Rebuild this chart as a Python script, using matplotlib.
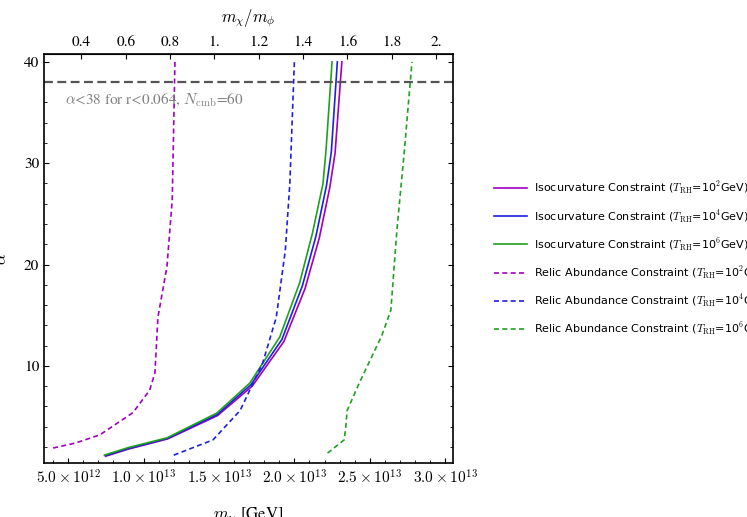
import matplotlib
matplotlib.use("Agg")
import matplotlib.pyplot as plt

plt.rcParams['mathtext.fontset'] = 'cm'
plt.rcParams['font.family'] = 'STIXGeneral'

m_phi = 1.47e13

iso1_m = [7.5e12, 9.0e12, 1.16e13, 1.49e13, 1.72e13, 1.93e13, 2.07e13, 2.165e13, 2.235e13, 2.27e13, 2.315e13]
iso1_a = [1.1, 1.8, 2.8, 5.1, 8.0, 12.4, 17.6, 22.6, 27.6, 31.0, 40.0]
iso2_m = [7.45e12, 9.0e12, 1.158e13, 1.488e13, 1.712e13, 1.917e13, 2.053e13, 2.143e13, 2.213e13, 2.245e13, 2.285e13]
iso2_a = [1.15, 1.85, 2.85, 5.2, 8.15, 12.6, 17.9, 22.8, 27.8, 31.1, 40.0]
iso3_m = [7.4e12, 9.0e12, 1.155e13, 1.486e13, 1.704e13, 1.903e13, 2.035e13, 2.12e13, 2.19e13, 2.21e13, 2.25e13]
iso3_a = [1.2, 1.95, 2.9, 5.35, 8.3, 12.85, 18.2, 23.1, 28.0, 31.3, 40.0]

rel1_m = [4.0e12, 5.5e12, 7.1e12, 9.3e12, 1.04e13, 1.075e13, 1.085e13, 1.095e13, 1.155e13, 1.19e13, 1.208e13]
rel1_a = [1.9, 2.4, 3.2, 5.4, 7.6, 9.3, 12.0, 14.8, 19.8, 26.4, 40.0]
rel2_m = [1.2e13, 1.46e13, 1.64e13, 1.79e13, 1.88e13, 1.94e13, 1.97e13, 2.0e13]
rel2_a = [1.2, 2.7, 5.6, 10.3, 14.8, 21.4, 28.0, 40.0]
rel3_m = [2.22e13, 2.33e13, 2.34e13, 2.35e13, 2.43e13, 2.58e13, 2.64e13, 2.68e13, 2.73e13, 2.78e13]
rel3_a = [1.4, 2.7, 3.8, 5.6, 8.3, 13.0, 15.5, 23.4, 31.3, 40.0]

xticks = [5e12, 1e13, 1.5e13, 2e13, 2.5e13, 3e13]
xticklabels = [r'$5.0\times10^{12}$', r'$1.0\times10^{13}$', r'$1.5\times10^{13}$',
               r'$2.0\times10^{13}$', r'$2.5\times10^{13}$', r'$3.0\times10^{13}$']
top_ticks = [0.4, 0.6, 0.8, 1.0, 1.2, 1.4, 1.6, 1.8, 2.0]
top_labels = ['0.4', '0.6', '0.8', '1.', '1.2', '1.4', '1.6', '1.8', '2.']

fig = plt.figure(figsize=(7.47, 5.17), dpi=100)
ax = fig.add_axes([0.059, 0.104, 0.547, 0.792])

ax.plot(iso1_m, iso1_a, color='#a000c0', lw=1.2, label=r'Isocurvature Constraint ($T_{\rm RH}$=10$^2$GeV)')
ax.plot(iso2_m, iso2_a, color='#1f1fe0', lw=1.2, label=r'Isocurvature Constraint ($T_{\rm RH}$=10$^4$GeV)')
ax.plot(iso3_m, iso3_a, color='#20a020', lw=1.2, label=r'Isocurvature Constraint ($T_{\rm RH}$=10$^6$GeV)')
ax.plot(rel1_m, rel1_a, color='#a000c0', lw=1.2, ls=(0, (3, 2)), label=r'Relic Abundance Constraint ($T_{\rm RH}$=10$^2$GeV)')
ax.plot(rel2_m, rel2_a, color='#1f1fe0', lw=1.2, ls=(0, (3, 2)), label=r'Relic Abundance Constraint ($T_{\rm RH}$=10$^4$GeV)')
ax.plot(rel3_m, rel3_a, color='#20a020', lw=1.2, ls=(0, (3, 2)), label=r'Relic Abundance Constraint ($T_{\rm RH}$=10$^6$GeV)')

ax.axhline(38, color='#555555', lw=1.6, ls=(0, (4, 2)))
ax.text(4.8e12, 36.2, r'$\alpha$<38 for r<0.064, $N_{\rm cmb}$=60', color='#808080', fontsize=11, va='center')

ax.set_xlim(3.4e12, 3.05e13)
ax.set_ylim(0.4, 40.8)
ax.set_xticks(xticks)
ax.set_xticklabels(xticklabels)
ax.set_yticks([10, 20, 30, 40])
ax.tick_params(direction='in', labelsize=11, top=False, right=True)
ax.minorticks_on()
ax.tick_params(which='minor', direction='in', right=True)
ax.set_xlabel(r'$m_\chi$ [GeV]', fontsize=12, labelpad=14)
ax.set_ylabel(r'$\alpha$', fontsize=12, labelpad=10)
for s in ax.spines.values():
    s.set_linewidth(1.2)

sec = ax.secondary_xaxis('top', functions=(lambda m: m / m_phi, lambda r: r * m_phi))
sec.set_xticks(top_ticks)
sec.set_xticklabels(top_labels)
sec.tick_params(direction='in', labelsize=11)
sec.set_xlabel(r'$m_\chi/m_\phi$', fontsize=12, labelpad=10)

leg = fig.legend(loc='center left', bbox_to_anchor=(0.648, 0.5), frameon=False,
                 prop={'family': 'DejaVu Sans', 'size': 8}, labelspacing=1.05, handlelength=3.0,
                 handletextpad=0.6)
fig.savefig('out.png', dpi=100)
